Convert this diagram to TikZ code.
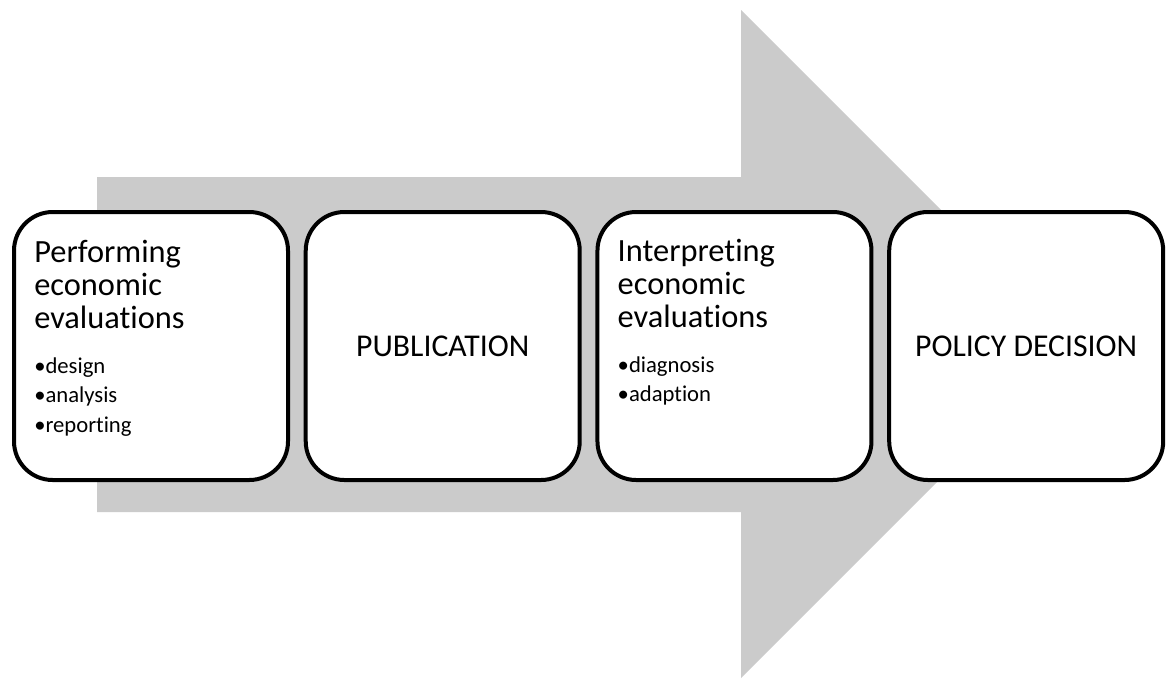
\documentclass[tikz,border=0pt]{standalone}
\usepackage{fontspec}
\setmainfont{Carlito}[Ligatures=NoCommon]
\usetikzlibrary{positioning,calc}

\definecolor{arrowgray}{HTML}{CBCBCB}
\newcommand{\headfont}{\fontsize{24.3pt}{24.75pt}\selectfont}
\newcommand{\itemfont}{\fontsize{17pt}{22pt}\selectfont}

\begin{document}
\begin{tikzpicture}[x=0.75pt,y=-0.75pt,
  stage/.style={rectangle,draw,line width=3pt,rounded corners=29pt,fill=white,
    minimum width=205.5pt,minimum height=201pt,font=\fontsize{23.8pt}{27pt}\selectfont},
  stagetext/.style={anchor=base west,inner sep=0pt}]
\useasboundingbox (0,0) rectangle (1174,679);

% big arrow behind the stages
\fill[arrowgray] (97,177) -- (741,177) -- (741,10) -- (1075,344)
  -- (741,678) -- (741,512) -- (97,512) -- cycle;

\node[stage] (perf) at (151,346) {};
\node[stage,right=10.3pt of perf] (pub) {PUBLICATION};
\node[stage,right=10.3pt of pub] (interp) {};
\node[stage,right=10.3pt of interp] (policy) {POLICY DECISION};

\node[stagetext] (perftext) at ($(perf.north west)+(22,52)$)
  {\parbox[t]{190pt}{{\headfont Performing\\economic\\evaluations\par}\vspace{12pt}%
   {\itemfont •design\\•analysis\\•reporting\par}}};
\node[stagetext] (interptext) at ($(interp.north west)+(22,51)$)
  {\parbox[t]{190pt}{{\headfont Interpreting\\economic\\evaluations\par}\vspace{12pt}%
   {\itemfont •diagnosis\\•adaption\par}}};
\end{tikzpicture}
\end{document}
